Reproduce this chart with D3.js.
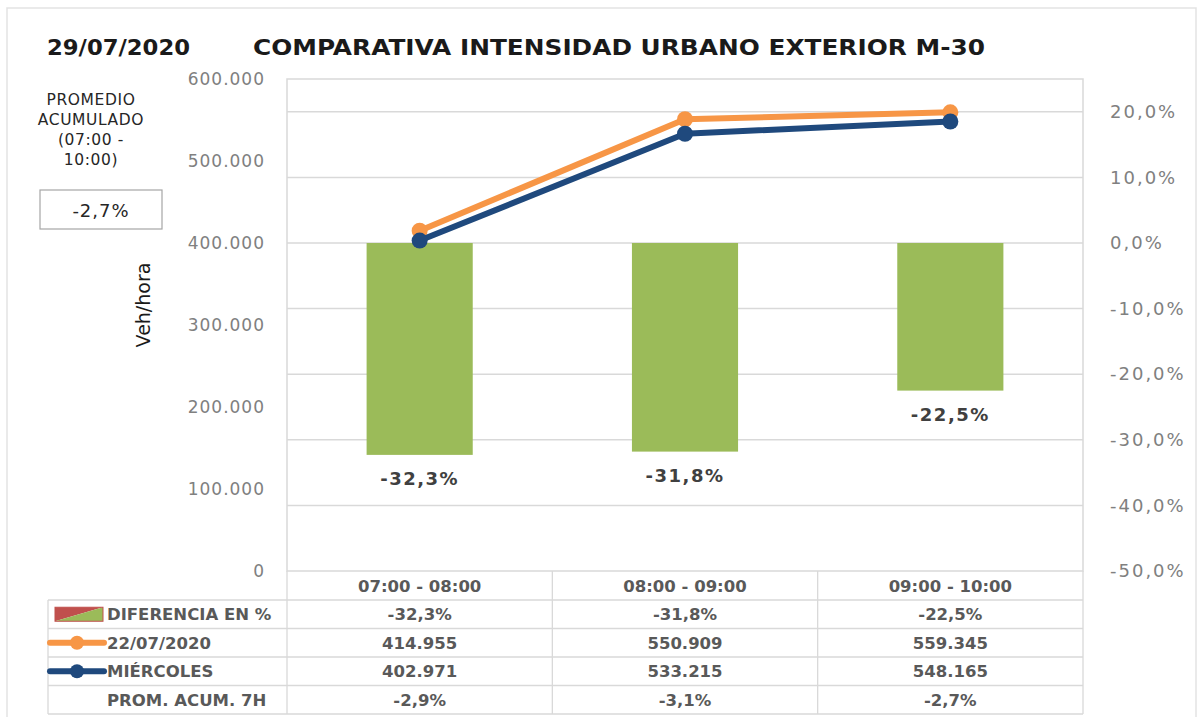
<!DOCTYPE html>
<html>
<head>
<meta charset="utf-8">
<script src="https://cdn.jsdelivr.net/npm/d3@7"></script>
<style>
  body { margin: 0; background: #fff; }
  text { font-family: "DejaVu Sans", Verdana, sans-serif; }
</style>
</head>
<body>
<svg id="chart" width="1203" height="717"></svg>
<script>
const fecha = '29/07/2020';
const titulo = 'COMPARATIVA INTENSIDAD URBANO EXTERIOR M-30';
const categorias = ['07:00 - 08:00', '08:00 - 09:00', '09:00 - 10:00'];
const diferencia = [-32.3, -31.8, -22.5];
const serie2207 = [414955, 550909, 559345];
const miercoles = [402971, 533215, 548165];
const promAcum = [-2.9, -3.1, -2.7];
const promedioTotal = -2.7;
const ticksIzq = [0, 100000, 200000, 300000, 400000, 500000, 600000];
const ticksDer = [-50, -40, -30, -20, -10, 0, 10, 20];

const es = d3.formatLocale({decimal: ',', thousands: '.', grouping: [3], currency: ['', '€'], minus: '-'});
const fmtNum = es.format(',.0f');
const fmtPct = v => es.format('.1f')(v) + '%';

const svg = d3.select('#chart');
const grey = '#808080';
const txt = '#595959';
const gridCol = '#d9d9d9';
const orange = '#f79646';
const blue = '#1f497d';
const green = '#9bbb59';

const pLeft = 287, pRight = 1083, pTop = 79, pBottom = 571;

const x = d3.scaleBand().domain(categorias).range([pLeft, pRight]);
const yL = d3.scaleLinear().domain([0, 600000]).range([pBottom, pTop]);
const yR = d3.scaleLinear().domain([-50, 25]).range([pBottom, pTop]);

// outer frame
svg.append('rect').attr('x', 7).attr('y', 8).attr('width', 1189).attr('height', 720)
  .attr('fill', 'none').attr('stroke', '#e3e3e3').attr('stroke-width', 1.5);

// titles
svg.append('text').attr('x', 47).attr('y', 55).attr('font-size', 22).attr('font-weight', 'bold')
  .attr('font-family', '"Open Sans", sans-serif')
  .attr('fill', '#1a1a1a').attr('textLength', 143).attr('lengthAdjust', 'spacingAndGlyphs').text(fecha);
svg.append('text').attr('x', 253).attr('y', 55).attr('font-size', 22).attr('font-weight', 'bold')
  .attr('font-family', '"Open Sans", sans-serif')
  .attr('fill', '#1a1a1a').attr('textLength', 732).attr('lengthAdjust', 'spacingAndGlyphs').text(titulo);

// left panel
['PROMEDIO', 'ACUMULADO', '(07:00 -', '10:00)'].forEach((t, i) => {
  svg.append('text').attr('x', 91).attr('y', 105 + i * 20).attr('text-anchor', 'middle')
    .attr('font-size', 15.5).attr('letter-spacing', 0.6).attr('fill', '#262626').text(t);
});
svg.append('rect').attr('x', 40).attr('y', 190).attr('width', 122).attr('height', 39)
  .attr('fill', '#fff').attr('stroke', '#a6a6a6').attr('stroke-width', 1.2);
svg.append('text').attr('x', 101).attr('y', 217).attr('text-anchor', 'middle')
  .attr('font-size', 18).attr('letter-spacing', 1).attr('fill', '#262626').text(fmtPct(promedioTotal));

// y title
svg.append('text').attr('transform', 'translate(150,305) rotate(-90)').attr('text-anchor', 'middle')
  .attr('font-size', 19).attr('fill', '#1a1a1a').attr('font-family', '"Liberation Sans Narrow", "Liberation Sans", sans-serif')
  .text('Veh/hora');

// gridlines (right axis ticks)
svg.append('g').selectAll('line').data(ticksDer.filter(d => d > -50)).join('line')
  .attr('x1', pLeft).attr('x2', pRight).attr('y1', d => yR(d)).attr('y2', d => yR(d))
  .attr('stroke', gridCol).attr('stroke-width', 1.5);

// plot border
svg.append('rect').attr('x', pLeft).attr('y', pTop).attr('width', pRight - pLeft).attr('height', pBottom - pTop)
  .attr('fill', 'none').attr('stroke', gridCol).attr('stroke-width', 1.5);

// axes
const axL = svg.append('g').attr('transform', `translate(${pLeft},0)`)
  .call(d3.axisLeft(yL).tickValues(ticksIzq).tickSize(0).tickPadding(22).tickFormat(d => fmtNum(d)));
const axR = svg.append('g').attr('transform', `translate(${pRight},0)`)
  .call(d3.axisRight(yR).tickValues(ticksDer).tickSize(0).tickPadding(27).tickFormat(fmtPct));
[axL, axR].forEach(a => {
  a.select('.domain').remove();
  a.selectAll('text').attr('fill', grey).attr('font-family', '"DejaVu Sans", sans-serif');
});
axL.selectAll('text').attr('font-size', 17).attr('letter-spacing', 1);
axR.selectAll('text').attr('font-size', 18).attr('letter-spacing', 2);

// bars
const bw = x.bandwidth() * 0.4;
svg.append('g').selectAll('rect').data(diferencia).join('rect')
  .attr('x', (d, i) => x(categorias[i]) + x.bandwidth() / 2 - bw / 2)
  .attr('width', bw)
  .attr('y', d => yR(Math.max(0, d)))
  .attr('height', d => Math.abs(yR(d) - yR(0)))
  .attr('fill', green);

svg.append('g').selectAll('text').data(diferencia).join('text')
  .attr('x', (d, i) => x(categorias[i]) + x.bandwidth() / 2)
  .attr('y', d => yR(d) + 30)
  .attr('text-anchor', 'middle').attr('font-size', 18).attr('font-weight', 'bold')
  .attr('letter-spacing', 1.5).attr('fill', '#404040').text(d => fmtPct(d));

// lines
const cx = (d, i) => x(categorias[i]) + x.bandwidth() / 2;
[[serie2207, orange], [miercoles, blue]].forEach(([serie, col]) => {
  const line = d3.line().x(cx).y(d => yL(d));
  svg.append('path').datum(serie).attr('d', line).attr('fill', 'none')
    .attr('stroke', col).attr('stroke-width', 6).attr('stroke-linejoin', 'round');
  svg.append('g').selectAll('circle').data(serie).join('circle')
    .attr('cx', cx).attr('cy', d => yL(d)).attr('r', 8).attr('fill', col);
});

// data table
const rowTop = 600, rowH = 28.5, tLeft = 48;
const filas = [
  {nombre: 'DIFERENCIA EN %', valores: diferencia.map(fmtPct), icono: 'bar'},
  {nombre: '22/07/2020', valores: serie2207.map(fmtNum), icono: orange},
  {nombre: 'MIÉRCOLES', valores: miercoles.map(fmtNum), icono: blue},
  {nombre: 'PROM. ACUM. 7H', valores: promAcum.map(fmtPct), icono: null}
];
const tb = svg.append('g');
const tline = (x1, y1, x2, y2) => tb.append('line').attr('x1', x1).attr('y1', y1).attr('x2', x2).attr('y2', y2)
  .attr('stroke', gridCol).attr('stroke-width', 1.3);
const tBottom = rowTop + rowH * filas.length;
tline(pLeft, pBottom, pLeft, tBottom);
tline(tLeft, rowTop, tLeft, tBottom);
categorias.forEach(c => tline(x(c) + x.bandwidth(), pBottom, x(c) + x.bandwidth(), tBottom));
d3.range(filas.length + 1).forEach(i => tline(tLeft, rowTop + i * rowH, pRight, rowTop + i * rowH));

tb.selectAll('text.cat').data(categorias).join('text').attr('class', 'cat')
  .attr('x', d => x(d) + x.bandwidth() / 2).attr('y', 592).attr('text-anchor', 'middle')
  .attr('font-size', 16.5).attr('font-weight', 'bold').attr('fill', txt).text(d => d);

filas.forEach((f, r) => {
  const yc = rowTop + r * rowH + rowH / 2;
  tb.append('text').attr('x', 107).attr('y', yc + 6).attr('font-size', 16.5).attr('font-weight', 'bold')
    .attr('fill', txt).text(f.nombre);
  f.valores.forEach((v, i) => {
    tb.append('text').attr('x', x(categorias[i]) + x.bandwidth() / 2).attr('y', yc + 6)
      .attr('text-anchor', 'middle').attr('font-size', 16.5).attr('font-weight', 'bold')
      .attr('fill', txt).text(v);
  });
  if (f.icono === 'bar') {
    tb.append('path').attr('d', `M55,${yc - 7}H103L55,${yc + 7}Z`).attr('fill', '#c0504d');
    tb.append('path').attr('d', `M103,${yc - 7}V${yc + 7}H55Z`).attr('fill', green);
    tb.append('rect').attr('x', 55).attr('y', yc - 7).attr('width', 48).attr('height', 14)
      .attr('fill', 'none').attr('stroke', '#c0504d').attr('stroke-width', 1);
  } else if (f.icono) {
    tb.append('line').attr('x1', 50).attr('x2', 104).attr('y1', yc).attr('y2', yc)
      .attr('stroke', f.icono).attr('stroke-width', 6).attr('stroke-linecap', 'round');
    tb.append('circle').attr('cx', 77).attr('cy', yc).attr('r', 7).attr('fill', f.icono);
  }
});
</script>
</body>
</html>
